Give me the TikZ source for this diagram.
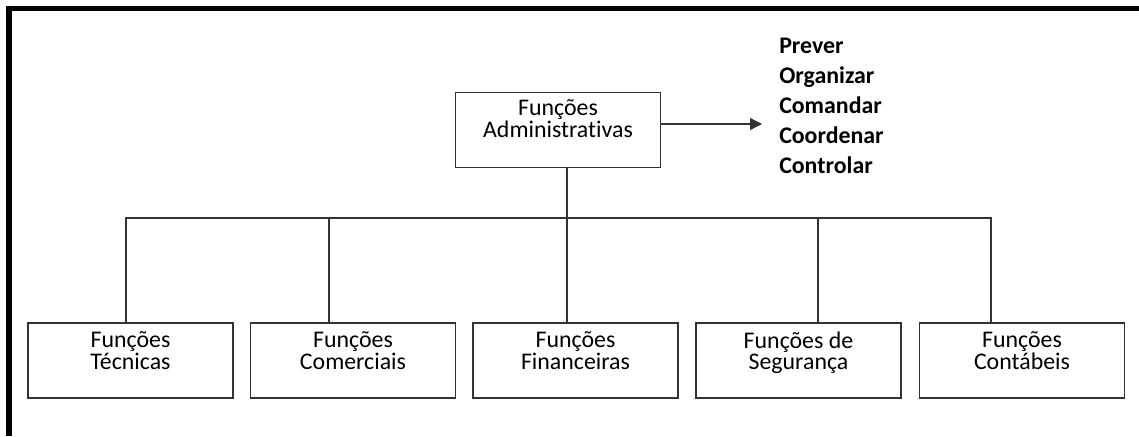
\documentclass[tikz,border=0pt]{standalone}
\usepackage{fontspec}
\setmainfont{Carlito}[Ligatures=NoCommon]
\usetikzlibrary{arrows.meta}
\begin{document}
\begin{tikzpicture}[x=0.75pt,y=-0.75pt,
  fbox/.style={draw=black!80,line width=1pt,rectangle,minimum width=153.75pt,minimum height=56.25pt,inner sep=0pt},
  ftxt/.style={anchor=base,align=center,inner sep=0pt,font=\fontsize{17.9}{14.6}\selectfont},
  conn/.style={draw=black!80,line width=1pt},
  lst/.style={anchor=base west,align=left,inner sep=0pt,font=\fontsize{17.9}{22.5}\selectfont\bfseries}]
\useasboundingbox (0,0) rectangle (1139,436);
\fill[white] (0,0) rectangle (1139,436);
% frame
\fill[black] (6,6) rectangle (1139,10.7);
\fill[black] (6,6) rectangle (11.5,436);
% admin box
\node[fbox] (adm) at (558,130) {};
\node[ftxt] (admt) at (558,137) {Funções\\Administrativas};
% list
\begin{scope}
\clip (700,20) rectangle (1000,175.5);
\node[lst] (lst) at (779,173) {Prever\\Organizar\\Comandar\\Coordenar\\Controlar};
\end{scope}
\coordinate (arrend) at (762,124);
\draw[conn,-{Triangle[length=9pt,width=9pt]}] (adm.east |- arrend) -- (arrend);
% bottom boxes
\node[fbox] (b1) at (130.5,360.5) {};
\node[fbox] (b2) at (353,360.5) {};
\node[fbox] (b3) at (575.5,360.5) {};
\node[fbox] (b4) at (798.5,360.5) {};
\node[fbox] (b5) at (1022,360.5) {};
\node[ftxt] (b1t) at (130.5,369.5) {Funções\\Técnicas};
\node[ftxt] (b2t) at (353,369.5) {Funções\\Comerciais};
\node[ftxt] (b3t) at (575.5,369.5) {Funções\\Financeiras};
\node[ftxt] (b4t) at (798.5,369.5) {Funções de\\Segurança};
\node[ftxt] (b5t) at (1022,369.5) {Funções\\Contábeis};
% tree connectors
\coordinate (bus) at (567,218);
\coordinate (busl) at (126,218);
\coordinate (busr) at (991,218);
\draw[conn] (bus |- adm.south) -- (bus);
\draw[conn] (busl |- b1.north) -- (busl) -- (busr) -- (busr |- b5.north);
\draw[conn] (329,218) -- (329,0 |- b2.north);
\draw[conn] (bus) -- (bus |- b3.north);
\draw[conn] (818,218) -- (818,0 |- b4.north);
\end{tikzpicture}
\end{document}
